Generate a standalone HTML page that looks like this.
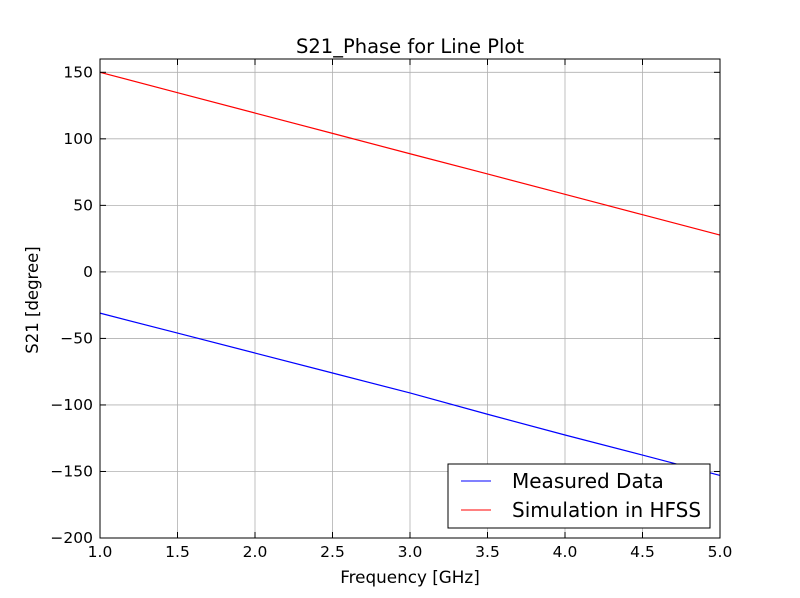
<!DOCTYPE html>
<html><head><meta charset="utf-8"><style>
body{margin:0;background:#fff;}
svg{display:block;font-family:"DejaVu Sans","Liberation Sans",sans-serif;}
</style></head><body>
<svg id="chart" width="800" height="598">
<rect width="800" height="598" fill="#fff"/>
<text x="410" y="53" font-size="19.5" text-anchor="middle">S21_Phase for Line Plot</text>
<g id="grid"></g>
<g id="series"></g>
<rect x="100" y="59" width="620" height="479" fill="none" stroke="#000" stroke-width="1"/>
<g id="ticks"></g>
<text x="410" y="583" font-size="16.8" text-anchor="middle">Frequency [GHz]</text>
<text transform="translate(38,300) rotate(-90)" font-size="16.5" text-anchor="middle">S21 [degree]</text>
<g>
<rect x="448" y="464" width="262" height="64" fill="#fff" stroke="#000"/>
<line x1="461" y1="481" x2="491" y2="481" stroke="#0000ff"/>
<text x="512" y="488" font-size="20">Measured Data</text>
<line x1="461" y1="510" x2="491" y2="510" stroke="#ff0000"/>
<text x="512" y="517" font-size="20">Simulation in HFSS</text>
</g>
</svg>
<script>
const xTicks=[1.0,1.5,2.0,2.5,3.0,3.5,4.0,4.5,5.0];
const yTicks=[150,100,50,0,-50,-100,-150,-200];
const freqs=[1.0,1.5,2.0,2.5,3.0,3.5,4.0,4.5,5.0];
const measured=[-31,-46,-61,-76,-91,-107,-122.6,-137.7,-153];
const simulation=[150,134.7,119.4,104.1,88.8,73.6,58.3,43,27.7];
const X=v=>100+(v-1)*155;
const Y=v=>538-(v+200)*(479/360);
const ns="http://www.w3.org/2000/svg";
const grid=document.getElementById('grid'),ticks=document.getElementById('ticks'),series=document.getElementById('series');
function mk(tag,attrs,parent){const e=document.createElementNS(ns,tag);for(const k in attrs)e.setAttribute(k,attrs[k]);parent.appendChild(e);return e;}
xTicks.forEach(t=>{
 const g=mk('line',{x1:X(t),x2:X(t),y1:59,y2:538,stroke:'#b0b0b0','stroke-width':0.8},grid);
 
 
 mk('line',{x1:X(t),x2:X(t),y1:538,y2:532,stroke:'#000'},ticks);
 mk('line',{x1:X(t),x2:X(t),y1:59,y2:65,stroke:'#000'},ticks);
 const l=mk('text',{x:X(t),y:557,'font-size':15.5,'text-anchor':'middle'},ticks);
 l.textContent=t.toFixed(1);
 
 
});
yTicks.forEach(t=>{
 const g=mk('line',{x1:100,x2:720,y1:Y(t),y2:Y(t),stroke:'#b0b0b0','stroke-width':0.8},grid);
 
 
 mk('line',{x1:100,x2:106,y1:Y(t),y2:Y(t),stroke:'#000'},ticks);
 mk('line',{x1:714,x2:720,y1:Y(t),y2:Y(t),stroke:'#000'},ticks);
 const l=mk('text',{x:93,y:Y(t)+5,'font-size':15.5,'text-anchor':'end'},ticks);
 l.textContent=t<0?'\u2212'+Math.abs(t):String(t);
 
 
});
function line(vals,color,name){
 const p=mk('polyline',{points:freqs.map((f,i)=>X(f)+','+Y(vals[i])).join(' '),fill:'none',stroke:color,'stroke-width':1.2},series);
 
 
}
line(simulation,'#ff0000','simulation-line');
line(measured,'#0000ff','measured-line');
</script>
</body></html>
